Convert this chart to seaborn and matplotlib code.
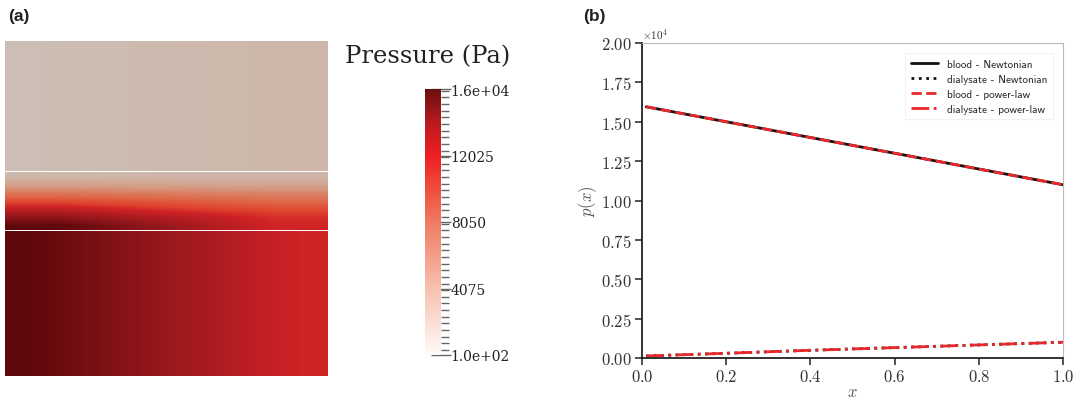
import numpy as np
import pandas as pd
import matplotlib
matplotlib.use("Agg")
import matplotlib.pyplot as plt
from matplotlib.colors import LinearSegmentedColormap, Normalize
from matplotlib.cm import ScalarMappable
from matplotlib.ticker import MultipleLocator
import seaborn as sns

# -------------------------
# Data
# -------------------------
x_pos = [0.01, 0.2, 0.4, 0.6, 0.8, 1.0]
p_blood_newt = [15950, 15000, 14000, 13000, 12000, 11000]
p_dial_newt = [130, 300, 490, 660, 830, 1000]
p_blood_pl = [15950, 15000, 14000, 13000, 12000, 11000]
p_dial_pl = [130, 300, 490, 660, 830, 1000]

# membrane field, rows top (dialysate side) -> bottom (blood side), cols x = 0, 0.5, 1
p_membrane = [
    [800, 1000, 1200],
    [3500, 3300, 3000],
    [7000, 6500, 6000],
    [9500, 8800, 8000],
    [11800, 10500, 9600],
    [14000, 12300, 10700],
    [16000, 13500, 11000],
]

cbar_ticks = [100, 4075, 8050, 12025, 16000]
cbar_labels = ["1.0e+02", "4075", "8050", "12025", "1.6e+04"]
p_min, p_max = 100, 16000

sns.set_style("ticks")
plt.rcParams["font.family"] = "serif"
plt.rcParams["font.serif"] = ["cmr10"]
plt.rcParams["mathtext.fontset"] = "cm"
plt.rcParams["axes.formatter.use_mathtext"] = True

W, H = 1081, 402
fig = plt.figure(figsize=(W / 100, H / 100), dpi=100)


def px_axes(x0, y0, x1, y1):
    return fig.add_axes([x0 / W, 1 - y1 / H, (x1 - x0) / W, (y1 - y0) / H])


# -------------------------
# Panel (a): pressure field
# -------------------------
# colour bar map, and a darker "lit surface" version for the field itself
pv_reds = LinearSegmentedColormap.from_list("pv_reds", [
    (0.0, "#fffaf8"),
    (0.25, "#f7c0af"),
    (0.5, "#f07a62"),
    (0.625, "#ee4e3e"),
    (0.75, "#ec2024"),
    (0.875, "#b91a1e"),
    (1.0, "#690e10"),
])
field_cmap = LinearSegmentedColormap.from_list("field", [
    (0.0, "#ccbeb4"),
    (0.3, "#d6967d"),
    (0.5, "#de6a4a"),
    (0.62, "#e0432d"),
    (0.69, "#cf2226"),
    (0.85, "#96181c"),
    (1.0, "#5f080c"),
])
norm = Normalize(p_min, p_max)

blocks = [
    ((5, 42, 328, 172), [p_dial_pl, p_dial_pl]),
    ((5, 173, 328, 231), p_membrane),
    ((5, 232, 328, 377), [p_blood_pl, p_blood_pl]),
]
for box, field in blocks:
    ax = px_axes(*box)
    ax.imshow(np.array(field, dtype=float), cmap=field_cmap, norm=norm,
              aspect="auto", interpolation="bilinear")
    ax.set_axis_off()

cax = px_axes(425, 90, 441, 356)
cb = fig.colorbar(ScalarMappable(norm=norm, cmap=pv_reds), cax=cax)
cb.outline.set_visible(False)
cb.set_ticks(cbar_ticks)
cb.set_ticklabels(cbar_labels)
cax.yaxis.set_minor_locator(MultipleLocator((cbar_ticks[1] - cbar_ticks[0]) / 10))
cax.tick_params(which="major", direction="inout", length=14, width=1,
                color="#666666", pad=0, labelsize=10)
cax.tick_params(which="minor", direction="out", length=6, width=1, color="#666666")
for t in cax.get_yticklabels():
    t.set_fontfamily("DejaVu Serif")
    t.set_color("#222222")

fig.text(345 / W, 1 - 57 / H, "Pressure (Pa)", fontsize=17.5, family="DejaVu Serif",
         va="center", ha="left", color="#222222")

# -------------------------
# Panel (b): centreline pressure
# -------------------------
red = "#e8282b"
ax = px_axes(642, 44, 1063, 359)
sns.lineplot(x=x_pos, y=p_blood_newt, color="#111111", lw=2, ls="-",
             label="blood - Newtonian", ax=ax)
sns.lineplot(x=x_pos, y=p_dial_newt, color="#111111", lw=2, ls=":",
             label="dialysate - Newtonian", ax=ax)
sns.lineplot(x=x_pos, y=p_blood_pl, color=red, lw=2, ls="--",
             label="blood - power-law", ax=ax)
sns.lineplot(x=x_pos, y=p_dial_pl, color=red, lw=2, ls="-.",
             label="dialysate - power-law", ax=ax)

ax.set_xlim(0, 1)
ax.set_ylim(0, 20000)
ax.yaxis.set_major_locator(MultipleLocator(2500))
ax.xaxis.set_major_locator(MultipleLocator(0.2))
ax.ticklabel_format(axis="y", style="sci", scilimits=(0, 0), useMathText=True)
ax.yaxis.get_offset_text().set_fontsize(8)
ax.yaxis.get_offset_text().set_color("#555555")
ax.tick_params(direction="out", length=5, width=1.2, labelsize=12, pad=2,
               labelcolor="#333333", color="#333333")
for side in ["left", "bottom"]:
    ax.spines[side].set_color("#222222")
    ax.spines[side].set_linewidth(1.3)
for side in ["top", "right"]:
    ax.spines[side].set_color("#bbbbbb")
    ax.spines[side].set_linewidth(0.8)
ax.set_xlabel("$x$", fontsize=12, color="#555555", labelpad=0)
ax.set_ylabel("$p(x)$", fontsize=12, color="#555555", labelpad=2)

leg = ax.legend(loc="upper right", prop={"family": "cmss10", "size": 8},
                frameon=True, fancybox=False, borderpad=0.5, handlelength=2.5,
                labelspacing=0.45, bbox_to_anchor=(0.99, 0.985))
leg.get_frame().set_edgecolor("#eeeeee")
leg.get_frame().set_linewidth(0.8)

fig.text(8 / W, 1 - 17 / H, "(a)", fontsize=12.5, fontweight="bold",
         family="Liberation Sans", va="center", color="#222222")
fig.text(583 / W, 1 - 17 / H, "(b)", fontsize=12.5, fontweight="bold",
         family="Liberation Sans", va="center", color="#222222")

fig.savefig("out.png", dpi=100)
